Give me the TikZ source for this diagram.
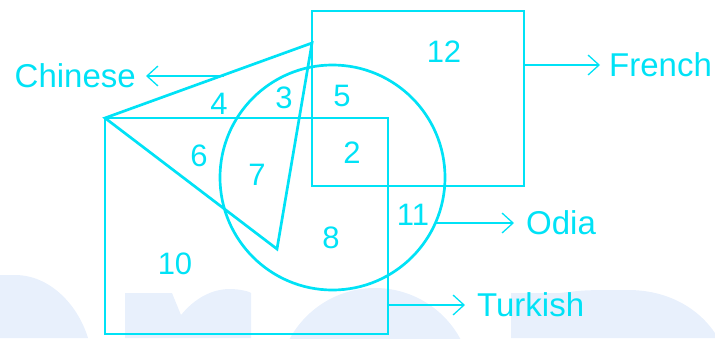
\documentclass[tikz,border=0pt]{standalone}
\usepackage{fontspec}
\setmainfont{Liberation Sans}
\usetikzlibrary{arrows.meta}
\definecolor{vcyan}{RGB}{0,226,246}
\definecolor{wmark}{RGB}{232,240,252}
\tikzset{
  setline/.style={line width=2.7pt,draw=vcyan},
  ptr/.style={line width=2.2pt,draw=vcyan,-{Straight Barb[length=11pt,width=20pt,line width=1.3pt]}},
  setname/.style={inner sep=0pt,text=vcyan,font=\fontsize{33}{40}\selectfont},
  regnum/.style={inner sep=0pt,text=vcyan,font=\fontsize{31}{37}\selectfont},
  wmshape/.style={fill=wmark,draw=none}
}

\begin{document}
\begin{tikzpicture}[x=1pt,y=-1pt]
  \useasboundingbox (0,0) rectangle (715,338);
  % faint background shapes
  \fill[wmshape] (0,275) -- (15,275) .. controls (50,275) and (78,305) .. (88,338) -- (0,338) -- cycle;
  \fill[wmshape] (125,338) -- (125,293) -- (172,293) -- (181,315) .. controls (195,298) and (212,289) .. (230,289) .. controls (240,289) and (251,292) .. (251,293) -- (251,338) -- cycle;
  \fill[wmshape] (375,385) circle (97);
  \fill[wmshape] (511,338) -- (511,293) -- (560,293) .. controls (585,290) .. (628,290) .. controls (675,290) and (705,315) .. (718,338) -- cycle;
  % sets
  \coordinate (apex) at (312,43); \coordinate (tl) at (105,118); \coordinate (tip) at (277,249);
  \coordinate (O) at (332.5,177.5);
  \draw[setline] (312,11) rectangle (524,186);
  \draw[setline] (tl) rectangle (388,334);
  \draw[setline] (O) circle (112.5);
  \draw[setline,line join=miter] (tl)--(apex)--(tip)--cycle;
  % labels
  \node[setname,anchor=east] (chinese) at (136,76) {Chinese};
  \node[setname,anchor=west] (french) at (609,65) {French};
  \node[setname,anchor=west] (odia) at (526,223) {Odia};
  \node[setname,anchor=west] (turkish) at (477,305) {Turkish};
  \coordinate (chA) at (223.7,76); \coordinate (frA) at (524,65);
  \coordinate (odA) at (435.8,223); \coordinate (tuA) at (388,305);
  \draw[ptr,shorten >=10pt] (chA) -- (chinese.east);
  \draw[ptr,shorten >=9pt] (frA) -- (french.west);
  \draw[ptr,shorten >=12pt] (odA) -- (odia.west);
  \draw[ptr,shorten >=12pt] (tuA) -- (turkish.west);
  % region counts
  \foreach \n/\x/\y in {12/444/52, 4/219/104, 3/284/98, 5/342/96, 6/199/156, 2/352/153, 7/257/175, 11/413/215, 8/331/238, 10/175/264}
    \node[regnum] (r\n) at (\x,\y) {\n};
\end{tikzpicture}
\end{document}
